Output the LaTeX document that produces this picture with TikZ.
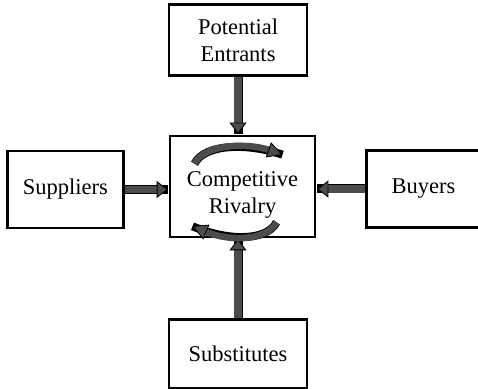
\documentclass[tikz,border=0pt]{standalone}
\usepackage{fontspec}
\setmainfont{Liberation Serif}
\usetikzlibrary{arrows.meta,positioning}
\definecolor{arrf}{HTML}{4C4C4C}

\begin{document}
\begin{tikzpicture}[x=1pt,y=1pt,
  font=\fontsize{22.5}{27}\selectfont,
  box/.style={draw,line width=2.6pt,fill=white,align=center,inner sep=2pt},
  push/.style={-{Triangle[width=17pt,length=11pt,color=black,fill=arrf,line width=0.8pt]},line width=7.5pt,draw=arrf,
    preaction={draw=black,line width=9pt,-}},
  spin/.style={-{Triangle[width=16pt,length=15pt,color=black,fill=arrf,line width=0.8pt]},line width=6.5pt,draw=arrf,
    preaction={draw=black,line width=8pt,-}}]
\useasboundingbox (0,0) rectangle (478,388);
\node[box,minimum width=145,minimum height=101] (ctr) at (242.5,201.5) {\rule{0pt}{31pt}Competitive\\Rivalry};
\node[box,minimum width=138,minimum height=71,above=58pt of ctr,xshift=-4.5pt] (ent) {Potential\\Entrants};
\node[box,minimum width=138,minimum height=69,below=80pt of ctr,xshift=-4.5pt] (sub) {Substitutes};
\node[box,minimum width=116,minimum height=77,left=44pt of ctr,yshift=-3pt] (sup) {Suppliers};
\node[box,minimum width=114,minimum height=77,right=49pt of ctr,yshift=-2.5pt] (buy) {Buyers};
% forces into the centre
\draw[push] (ent.south) -- ([yshift=1pt]ent.south |- ctr.north);
\draw[push] (sub.north) -- ([yshift=-1pt]sub.north |- ctr.south);
\draw[push] (sup.east) -- ([xshift=-1pt]sup.east -| ctr.west);
\draw[push] (buy.west) -- ([xshift=1pt]buy.west -| ctr.east);
% rivalry cycle
\draw[spin] ([shift={(-48,-29)}]ctr.north) .. controls ([shift={(-38,-9)}]ctr.north) and ([shift={(5,-8)}]ctr.north) .. ([shift={(40,-20)}]ctr.north);
\draw[spin] ([shift={(34,16)}]ctr.south) .. controls ([shift={(24,-3)}]ctr.south) and ([shift={(-14,-3)}]ctr.south) .. ([shift={(-50,12)}]ctr.south);
\end{tikzpicture}
\end{document}
